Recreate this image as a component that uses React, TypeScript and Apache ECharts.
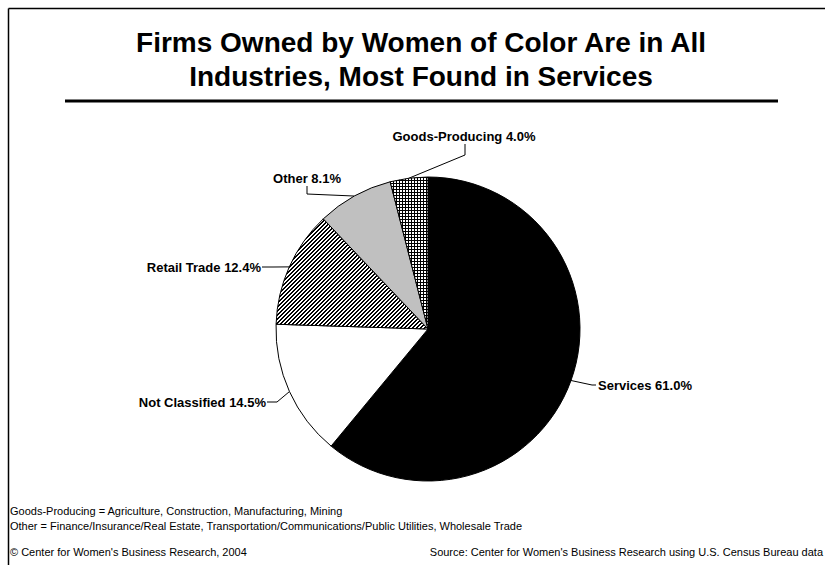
import React, { useEffect, useRef } from "react";
import * as echarts from "echarts";

const titleLines = [
  "Firms Owned by Women of Color Are in All",
  "Industries, Most Found in Services",
];
const categories = ["Services", "Not Classified", "Retail Trade", "Other", "Goods-Producing"];
const values = [61.0, 14.5, 12.4, 8.1, 4.0];
const footnotes = [
  "Goods-Producing = Agriculture, Construction, Manufacturing, Mining",
  "Other = Finance/Insurance/Real Estate, Transportation/Communications/Public Utilities, Wholesale Trade",
];
const copyrightText = "\u00A9 Center for Women's Business Research, 2004";
const sourceText = "Source: Center for Women's Business Research using U.S. Census Bureau data";

const FONT = "'Liberation Sans', Arial, Helvetica, sans-serif";

function makePattern(size: number, draw: (ctx: CanvasRenderingContext2D) => void) {
  const c = document.createElement("canvas");
  c.width = size;
  c.height = size;
  const ctx = c.getContext("2d")!;
  ctx.fillStyle = "#fff";
  ctx.fillRect(0, 0, size, size);
  ctx.fillStyle = "#000";
  draw(ctx);
  return { image: c, repeat: "repeat", imageWidth: size, imageHeight: size } as any;
}

// label placement (style only)
const labelPlacement: Record<string, { x: number; y: number; align: string; pts: number[][] }> = {
  "Services": { x: 598, y: 385, align: "left", pts: [[592, 385], [596, 385]] },
  "Not Classified": { x: 266, y: 402, align: "right", pts: [[277, 402], [267, 402]] },
  "Retail Trade": { x: 261, y: 267, align: "right", pts: [[273, 267], [262, 267]] },
  "Other": { x: 307, y: 178, align: "center", pts: [[307, 194], [307, 186]] },
  "Goods-Producing": { x: 464, y: 136, align: "center", pts: [[465, 155], [465, 144]] },
};

export default function App() {
  const ref = useRef<HTMLDivElement>(null);
  useEffect(() => {
    if (!ref.current) return;
    const chart = echarts.init(ref.current, undefined, { renderer: "svg" });

    const hatch = makePattern(4, (ctx) => {
      for (let i = 0; i < 4; i++) {
        ctx.fillRect(i, 3 - i, 1, 1);
        ctx.fillRect((i + 1) % 4, 3 - i, 1, 1);
      }
    });
    const grid = makePattern(3, (ctx) => {
      ctx.fillRect(0, 0, 3, 1);
      ctx.fillRect(0, 0, 1, 3);
    });
    const fills: any[] = ["#000000", "#ffffff", hatch, "#c0c0c0", grid];

    chart.setOption({
      animation: false,
      backgroundColor: "#ffffff",
      graphic: [
        { type: "line", shape: { x1: 8.5, y1: 8.5, x2: 830, y2: 8.5 }, style: { stroke: "#000", lineWidth: 1.5 } },
        { type: "line", shape: { x1: 8.5, y1: 8.5, x2: 8.5, y2: 570 }, style: { stroke: "#000", lineWidth: 1.5 } },
        ...titleLines.map((t, i) => ({
          type: "text",
          x: 421,
          y: 42 + i * 34,
          style: {
            text: t,
            fill: "#000",
            font: `bold 28px ${FONT}`,
            textAlign: "center",
            textVerticalAlign: "middle",
          },
        })),
        { type: "rect", shape: { x: 65, y: 99.5, width: 713, height: 3 }, style: { fill: "#000" } },
        ...footnotes.map((t, i) => ({
          type: "text",
          x: 10,
          y: 511 + i * 15,
          style: { text: t, fill: "#000", font: `11px ${FONT}`, textVerticalAlign: "middle" },
        })),
        {
          type: "text",
          x: 10,
          y: 552,
          style: { text: copyrightText, fill: "#000", font: `11px ${FONT}`, textVerticalAlign: "middle" },
        },
        {
          type: "text",
          x: 823,
          y: 552,
          style: { text: sourceText, fill: "#000", font: `11px ${FONT}`, textAlign: "right", textVerticalAlign: "middle" },
        },
      ],
      series: [
        {
          type: "pie",
          center: [428, 329],
          radius: 152,
          startAngle: 90,
          clockwise: true,
          silent: true,
          emphasis: { disabled: true },
          data: categories.map((c, i) => ({ name: c, value: values[i], itemStyle: { color: fills[i] } })),
          itemStyle: { borderColor: "#000", borderWidth: 1 },
          label: {
            show: true,
            formatter: (p: any) => `${p.name} ${Number(p.value).toFixed(1)}%`,
            fontFamily: FONT,
            fontWeight: "bold",
            fontSize: 13,
            color: "#000",
          },
          labelLine: { show: true, length: 10, length2: 10, lineStyle: { color: "#000", width: 1 } },
          labelLayout: (params: any) => {
            const name = categories[params.dataIndex];
            const pl = labelPlacement[name];
            const start = params.labelLinePoints ? params.labelLinePoints[0] : pl.pts[0];
            return {
              x: pl.x,
              y: pl.y,
              align: pl.align,
              verticalAlign: "middle",
              labelLinePoints: [start, pl.pts[0], pl.pts[1]],
            };
          },
        },
      ],
    });
    return () => chart.dispose();
  }, []);
  return (
    <div
      ref={ref}
      style={{ position: "absolute", left: 0, top: 0, width: 825, height: 565 }}
    />
  );
}
